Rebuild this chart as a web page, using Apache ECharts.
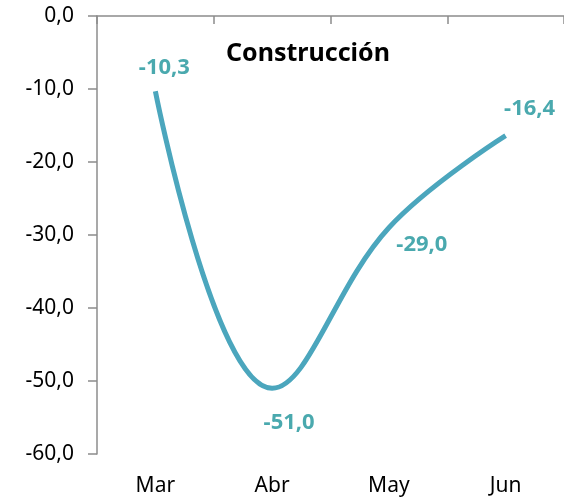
<!DOCTYPE html>
<html>
<head>
<meta charset="utf-8">
<script src="https://cdn.jsdelivr.net/npm/echarts@6/dist/echarts.min.js"></script>
<style>
  html, body { margin: 0; padding: 0; background: #fff; }
  #chart { width: 564px; height: 501px; }
</style>
</head>
<body>
<div id="chart"></div>
<script>
var months = ['Mar', 'Abr', 'May', 'Jun'];
var values = [-10.3, -51.0, -29.0, -16.4];
// label offsets from each point (px)
var labelOffsets = [[9, -23], [17, 34], [33, 17], [24, -27]];

var lineColor = '#4ba6bd';
var labelColor = '#4aa9ae';
var font = '"Noto Sans", "Open Sans", sans-serif';

var myChart = echarts.init(document.getElementById('chart'));

var seriesData = values.map(function (v, i) {
    return {
        value: v,
        label: { offset: labelOffsets[i] }
    };
});

function fmt(v) {
    return v.toFixed(1).replace('.', ',');
}

var option = {
    animation: false,
    title: {
        text: 'Construcción',
        left: 221,
        top: 36,
        textStyle: {
            fontFamily: font,
            fontSize: 25,
            fontWeight: 'bold',
            color: '#000'
        }
    },
    grid: {
        left: 97,
        top: 16,
        width: 470,
        bottom: 47
    },
    xAxis: [{
        type: 'category',
        data: months,
        position: 'bottom',
        axisLine: { show: false, onZero: false },
        axisTick: { show: false },
        axisLabel: {
            margin: 22,
            fontFamily: font,
            fontSize: 21,
            color: '#000'
        }
    }, {
        type: 'category',
        data: months,
        position: 'top',
        axisLine: { show: true, onZero: false, lineStyle: { color: '#8c8c8c', width: 1.5 } },
        axisTick: { show: true, inside: true, length: 8, lineStyle: { color: '#8c8c8c', width: 1.5 } },
        axisLabel: { show: false }
    }],
    yAxis: {
        type: 'value',
        min: -60,
        max: 0,
        interval: 10,
        splitLine: { show: false },
        axisLine: { show: true, lineStyle: { color: '#8c8c8c', width: 1.5 } },
        axisTick: { show: true, length: 9, lineStyle: { color: '#8c8c8c', width: 1.5 } },
        axisLabel: {
            margin: 23,
            fontFamily: font,
            fontSize: 21,
            color: '#000',
            formatter: fmt
        }
    },
    series: [{
        type: 'line',
        xAxisIndex: 0,
        data: seriesData,
        smooth: 0.4,
        symbol: 'circle',
        symbolSize: 1,
        itemStyle: { color: 'rgba(0,0,0,0)' },
        lineStyle: { color: lineColor, width: 5 },
        label: {
            show: true,
            position: 'inside',
            fontFamily: font,
            fontSize: 22,
            fontWeight: 'bold',
            color: labelColor,
            formatter: function (p) { return fmt(p.value); }
        }
    }]
};

myChart.setOption(option);
</script>
</body>
</html>
